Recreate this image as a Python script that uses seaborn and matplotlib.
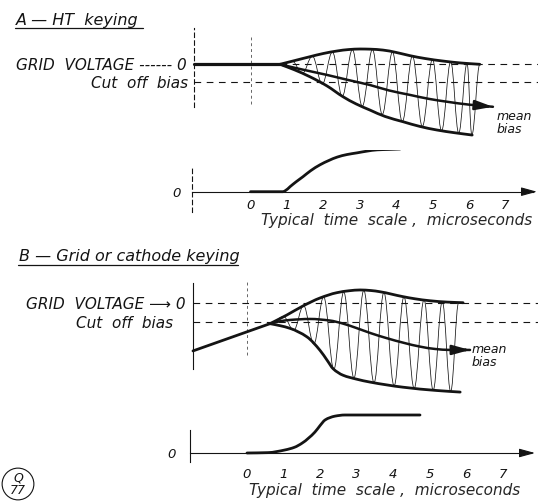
import matplotlib
matplotlib.use("Agg")
import matplotlib.pyplot as plt
from matplotlib.path import Path
from matplotlib.patches import PathPatch
from matplotlib.lines import Line2D
import seaborn as sns

# ---------------- data (time in microseconds, grid voltage in cut-off units) ----------------
time_ticks = [0, 1, 2, 3, 4, 5, 6, 7]
time_tick_labels = ["0", "1", "2", "3", "4", "5", "6", "7"]
grid_levels = [0, -1]
xlabel_text = "Typical  time  scale ,  microseconds"

# Panel A - HT keying
a_title = "A — HT  keying"
a_grid_labels = ["GRID  VOLTAGE ------ 0", "Cut  off  bias"]
a_flat_t = [-1.55, 0.81]
a_flat_v = [0.0, 0.0]
a_upper_t = [0.81, 1.20, 1.63, 2.00, 2.38, 2.70, 3.01, 3.30, 3.64, 4.00, 4.38, 4.80, 5.29, 5.80, 6.30]
a_upper_v = [0.00, 0.20, 0.42, 0.60, 0.74, 0.82, 0.85, 0.84, 0.79, 0.66, 0.48, 0.32, 0.18, 0.07, 0.00]
a_lower_t = [0.81, 1.20, 1.63, 2.10, 2.54, 2.90, 3.28, 3.70, 4.19, 4.65, 5.12, 5.60, 6.09]
a_lower_v = [0.00, -0.30, -0.69, -1.20, -1.80, -2.20, -2.54, -2.90, -3.19, -3.45, -3.65, -3.80, -3.93]
a_mean_t = [0.81, 1.40, 2.10, 2.70, 3.28, 3.80, 4.38, 4.90, 5.40, 6.00, 6.66]
a_mean_v = [0.00, -0.28, -0.59, -0.88, -1.15, -1.45, -1.70, -1.92, -2.08, -2.24, -2.36]
a_rf_t = [0.81, 1.15, 1.42, 1.70, 1.97, 2.25, 2.52, 2.80, 3.07, 3.35, 3.62, 3.90, 4.17,
          4.45, 4.72, 5.00, 5.25, 5.50, 5.72, 5.95, 6.08, 6.30]
a_rf_v = [0.00, 0.17, -0.51, 0.45, -1.10, 0.68, -1.78, 0.81, -2.33, 0.82, -2.78, 0.68, -3.18,
          0.46, -3.45, 0.28, -3.69, 0.14, -3.82, 0.06, -3.93, 0.00]
a_env_t = [0.00, 0.89, 0.95, 1.09, 1.25, 1.44, 1.65, 1.91, 2.15, 2.38, 2.65, 2.93, 3.20, 3.48, 3.80, 4.11]
a_env_v = [0.00, 0.00, 0.02, 0.12, 0.23, 0.35, 0.49, 0.63, 0.73, 0.81, 0.87, 0.91, 0.95, 0.98, 0.99, 1.00]

# Panel B - grid or cathode keying
b_title = "B — Grid or cathode keying"
b_grid_labels = ["GRID  VOLTAGE ⟶ 0", "Cut  off  bias"]
b_rise_t = [-1.48, 0.63]
b_rise_v = [-2.46, -1.07]
b_upper_t = [0.63, 1.09, 1.53, 2.00, 2.46, 2.80, 3.10, 3.40, 3.64, 4.27, 4.60, 5.01, 5.50, 5.92]
b_upper_v = [-1.07, -0.63, -0.17, 0.24, 0.51, 0.61, 0.65, 0.62, 0.56, 0.31, 0.20, 0.10, 0.03, 0.00]
b_lower_t = [0.63, 0.90, 1.18, 1.64, 2.00, 2.20, 2.36, 2.63, 3.00, 3.37, 4.27, 5.20, 5.84]
b_lower_v = [-1.07, -1.17, -1.31, -1.74, -2.43, -2.95, -3.37, -3.70, -3.90, -4.05, -4.31, -4.48, -4.56]
b_mean_t = [0.63, 0.90, 1.18, 1.73, 2.27, 2.60, 3.01, 3.40, 3.83, 4.30, 4.74, 5.15, 5.56, 6.11]
b_mean_v = [-1.07, -0.95, -0.88, -0.83, -0.91, -1.05, -1.30, -1.56, -1.81, -2.05, -2.24, -2.36, -2.41, -2.41]
b_rf_t = [0.63, 1.00, 1.28, 1.55, 1.83, 2.10, 2.38, 2.65, 2.93, 3.20, 3.48, 3.75, 4.03,
          4.30, 4.58, 4.85, 5.10, 5.35, 5.58, 5.80]
b_rf_v = [-1.07, -0.71, -1.40, -0.15, -2.10, 0.30, -3.39, 0.55, -3.84, 0.63, -4.08, 0.52, -4.24,
          0.30, -4.37, 0.15, -4.46, 0.06, -4.53, 0.01]
b_env_t = [0.00, 0.58, 1.04, 1.30, 1.51, 1.86, 2.00, 2.14, 2.27, 2.41, 2.68, 4.74]
b_env_v = [0.00, 0.01, 0.08, 0.15, 0.26, 0.55, 0.72, 0.87, 0.93, 0.97, 1.00, 1.00]

mean_label = "mean\nbias"
badge_text = "Q\n77"

# ---------------- style ----------------
W, H = 538, 501
INK = "#141414"
sns.set_theme(style="white")
plt.rcParams["font.family"] = ["DejaVu Sans"]
plt.rcParams["font.style"] = "italic"
plt.rcParams["text.color"] = INK

fig = plt.figure(figsize=(W / 100, H / 100), dpi=100)
fig.patch.set_facecolor("white")


def make_axes(box, xmap, ymap):
    x0, x1, y0, y1 = box
    a, b = xmap
    c, d = ymap
    ax = fig.add_axes([x0 / W, 1 - y1 / H, (x1 - x0) / W, (y1 - y0) / H])
    ax.set_xlim((x0 - a) / b, (x1 - a) / b)
    ax.set_ylim((c - y1) / d, (c - y0) / d)
    ax.patch.set_alpha(0)
    for s in ax.spines.values():
        s.set_visible(False)
    ax.set_xticks([])
    ax.set_yticks([])
    ax.set_xlabel("")
    ax.set_ylabel("")
    return ax


def carrier(ax, ts, vs, k=0.38):
    verts = [(ts[0], vs[0])]
    codes = [Path.MOVETO]
    for i in range(len(ts) - 1):
        t0, v0, t1, v1 = ts[i], vs[i], ts[i + 1], vs[i + 1]
        dt = t1 - t0
        verts += [(t0 + k * dt, v0), (t1 - k * dt, v1), (t1, v1)]
        codes += [Path.CURVE4] * 3
    ax.add_patch(PathPatch(Path(verts, codes), fill=False, lw=0.55, edgecolor=INK))


def smooth(ax, xs, ys, lw):
    """Draw a smooth (monotone cubic) curve through the read-off points."""
    n = len(xs)
    h = [xs[i + 1] - xs[i] for i in range(n - 1)]
    d = [(ys[i + 1] - ys[i]) / h[i] for i in range(n - 1)]
    m = [0.0] * n
    m[0], m[-1] = d[0], d[-1]
    for i in range(1, n - 1):
        if d[i - 1] * d[i] <= 0:
            m[i] = 0.0
        else:
            w1, w2 = 2 * h[i] + h[i - 1], h[i] + 2 * h[i - 1]
            m[i] = (w1 + w2) / (w1 / d[i - 1] + w2 / d[i])
    verts = [(xs[0], ys[0])]
    codes = [Path.MOVETO]
    for i in range(n - 1):
        verts += [(xs[i] + h[i] / 3, ys[i] + m[i] * h[i] / 3),
                  (xs[i + 1] - h[i] / 3, ys[i + 1] - m[i + 1] * h[i] / 3),
                  (xs[i + 1], ys[i + 1])]
        codes += [Path.CURVE4] * 3
    ax.add_patch(PathPatch(Path(verts, codes), fill=False, lw=lw, edgecolor=INK,
                           capstyle="round", joinstyle="round"))
    return verts[-2]


def line(ax, t, v, lw):
    sns.lineplot(x=t, y=v, ax=ax, color=INK, lw=lw, sort=False, estimator=None,
                 legend=False, solid_capstyle="round")


def arrow_end(ax, t, v, start, lw, scale=11):
    ax.annotate("", xy=(t[-1], v[-1]), xytext=start,
                arrowprops=dict(arrowstyle="-|>,head_length=0.95,head_width=0.26",
                                color=INK, lw=lw, shrinkA=0, shrinkB=0,
                                mutation_scale=scale))


def grid_panel(ax, spine_t, spine_lo, spine_hi, spine_dashed, labels, pads,
               t_right, zero_from, vdash):
    sp = ax.spines["left"]
    sp.set_visible(True)
    sp.set_position(("data", spine_t))
    sp.set_bounds(spine_lo, spine_hi)
    sp.set_color(INK)
    sp.set_linewidth(0.8)
    if spine_dashed:
        sp.set_linestyle((0, (4, 3)))
    ax.set_yticks(grid_levels)
    ax.set_yticklabels(labels, fontsize=11)
    ax.tick_params(axis="y", length=0, colors=INK)
    for tk, p in zip(ax.yaxis.get_major_ticks(), pads):
        tk.set_pad(p)
    ax.hlines([grid_levels[0]], zero_from, t_right, colors=INK, lw=0.8,
              linestyles=[(0, (6, 5))])
    ax.hlines([grid_levels[1]], spine_t, t_right, colors=INK, lw=0.8,
              linestyles=[(0, (6, 5))])
    ax.vlines([0], vdash[0], vdash[1], colors="0.4", lw=0.7, linestyles=[(0, (3, 3))])


def rf_panel(ax, spine_t, lo, hi, dashed, arrow_t, tick_pad, zero_pad, label_xy):
    b = ax.spines["bottom"]
    b.set_visible(True)
    b.set_position(("data", 0))
    b.set_bounds(spine_t, arrow_t - 0.1)
    b.set_color(INK)
    b.set_linewidth(0.8)
    l = ax.spines["left"]
    l.set_visible(True)
    l.set_position(("data", spine_t))
    l.set_bounds(lo, hi)
    l.set_color(INK)
    l.set_linewidth(0.8)
    if dashed:
        l.set_linestyle((0, (4, 3)))
    ax.set_xticks(time_ticks)
    ax.set_xticklabels(time_tick_labels, fontsize=9.5)
    ax.tick_params(axis="x", direction="inout", length=7, width=0.8, pad=tick_pad, colors=INK)
    ax.set_yticks([0])
    ax.set_yticklabels(["0"], fontsize=9.5)
    ax.tick_params(axis="y", length=0, pad=zero_pad, colors=INK)
    ax.annotate("", xy=(arrow_t, 0), xytext=(arrow_t - 0.4, 0),
                arrowprops=dict(arrowstyle="-|>,head_length=0.8,head_width=0.22",
                                color=INK, lw=0.8, shrinkA=0, shrinkB=0, mutation_scale=12))
    ax.set_xlabel(xlabel_text, fontsize=11)
    ax.xaxis.set_label_coords(*label_xy)
    ax.xaxis.label.set_va("center")


# ---------------- Panel A ----------------
axAg = make_axes((150, 538, 25, 150), (250.5, 36.4), (64.3, 18.0))
grid_panel(axAg, -1.55, -2.37, 2.0, True, a_grid_labels, [5, 4], 7.9, 0.81, (-2.2, 1.5))
carrier(axAg, a_rf_t, a_rf_v)
line(axAg, a_flat_t, a_flat_v, 2.3)
smooth(axAg, a_upper_t, a_upper_v, 2.0)
smooth(axAg, a_lower_t, a_lower_v, 2.0)
c = smooth(axAg, a_mean_t, a_mean_v, 1.8)
arrow_end(axAg, a_mean_t, a_mean_v, c, 1.8)
axAg.text(6.75, -2.55, mean_label, fontsize=9, ha="left", va="top", linespacing=1.0)

axAr = make_axes((150, 538, 150, 232), (250.5, 36.4), (191.7, 42.7))
rf_panel(axAr, -1.6, -0.47, 0.55, True, 7.87, 1.5, 8, ((397 - 150) / 388, (232 - 220) / 82))
smooth(axAr, a_env_t, a_env_v, 2.0)

# ---------------- Panel B ----------------
axBg = make_axes((150, 538, 270, 400), (247.0, 36.5), (302.7, 19.6))
grid_panel(axBg, -1.48, -3.4, 1.0, False, b_grid_labels, [5, 14], 7.97, -1.48, (-2.69, 1.06))
carrier(axBg, b_rf_t, b_rf_v)
line(axBg, b_rise_t, b_rise_v, 2.0)
smooth(axBg, b_upper_t, b_upper_v, 2.0)
smooth(axBg, b_lower_t, b_lower_v, 2.0)
c = smooth(axBg, b_mean_t, b_mean_v, 1.8)
arrow_end(axBg, b_mean_t, b_mean_v, c, 1.8)
axBg.text(6.15, -2.05, mean_label, fontsize=9, ha="left", va="top", linespacing=1.0)

axBr = make_axes((150, 538, 400, 501), (247.0, 36.5), (453.0, 38.0))
rf_panel(axBr, -1.56, -0.24, 0.6, False, 7.89, 7.0, 10, ((385 - 150) / 388, (501 - 490) / 101))
smooth(axBr, b_env_t, b_env_v, 2.0)

# ---------------- titles & badge ----------------
fig.text(16 / W, 1 - 20 / H, a_title, fontsize=11.5, ha="left", va="center")
fig.add_artist(Line2D([15 / W, 143 / W], [1 - 28 / H, 1 - 28 / H], color=INK, lw=0.9))
fig.text(19 / W, 1 - 257 / H, b_title, fontsize=11.5, ha="left", va="center")
fig.add_artist(Line2D([18 / W, 238 / W], [1 - 265 / H, 1 - 265 / H], color=INK, lw=0.9))
fig.text(18 / W, 1 - 484 / H, badge_text, fontsize=9, ha="center", va="center",
         linespacing=0.95,
         bbox=dict(boxstyle="circle,pad=0.25", fc="none", ec=INK, lw=0.8))

fig.savefig("out.png", dpi=100, facecolor="white")
